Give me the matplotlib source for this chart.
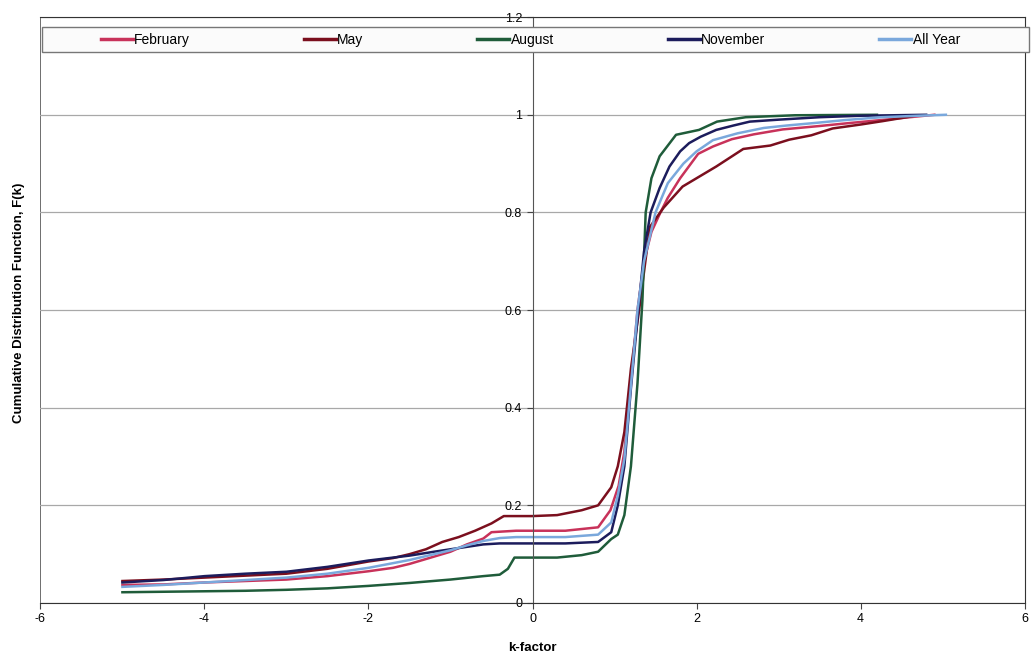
import matplotlib.pyplot as plt
from matplotlib.patches import Rectangle

plt.rcParams['font.family'] = ['Liberation Sans', 'DejaVu Sans']
plt.rcParams['axes.unicode_minus'] = False

# k-factor / F(k), one pair of lists per series
feb_k = [-5, -4.5, -4, -3.5, -3, -2.5, -2, -1.7, -1.5, -1.2, -1.0, -0.8, -0.6, -0.5, -0.2, 0,
         0.4, 0.8, 0.95, 1.05, 1.12, 1.2, 1.28, 1.36, 1.45, 1.56, 1.65, 1.8, 2.02, 2.2, 2.43,
         2.7, 3.05, 3.5, 3.86, 4.3, 4.9]
feb_f = [0.037, 0.038, 0.042, 0.045, 0.048, 0.055, 0.065, 0.072, 0.08, 0.095, 0.105, 0.12,
         0.132, 0.145, 0.148, 0.148, 0.148, 0.155, 0.19, 0.24, 0.31, 0.45, 0.6, 0.7, 0.76, 0.8,
         0.83, 0.87, 0.92, 0.935, 0.95, 0.96, 0.97, 0.977, 0.983, 0.99, 1.0]

may_k = [-5, -4.5, -4, -3.5, -3, -2.5, -2, -1.7, -1.5, -1.3, -1.1, -0.9, -0.7, -0.5, -0.35, 0,
         0.3, 0.6, 0.8, 0.96, 1.04, 1.12, 1.2, 1.3, 1.43, 1.6, 1.83, 2.0, 2.24, 2.57, 2.9,
         3.13, 3.4, 3.66, 4.0, 4.27, 4.63]
may_f = [0.045, 0.048, 0.052, 0.056, 0.06, 0.07, 0.085, 0.092, 0.1, 0.11, 0.125, 0.135, 0.148,
         0.163, 0.178, 0.178, 0.18, 0.19, 0.2, 0.237, 0.28, 0.35, 0.48, 0.6, 0.77, 0.81, 0.853,
         0.87, 0.894, 0.93, 0.937, 0.949, 0.958, 0.972, 0.98, 0.987, 0.997]

aug_k = [-5, -4.5, -4, -3.5, -3, -2.5, -2, -1.5, -1.0, -0.6, -0.4, -0.3, -0.22, 0, 0.3, 0.6,
         0.8, 0.96, 1.04, 1.12, 1.2, 1.28, 1.34, 1.38, 1.45, 1.55, 1.75, 2.03, 2.25, 2.6, 3.2,
         4.2]
aug_f = [0.022, 0.023, 0.024, 0.025, 0.027, 0.03, 0.035, 0.041, 0.048, 0.055, 0.058, 0.07,
         0.093, 0.093, 0.093, 0.098, 0.105, 0.131, 0.14, 0.18, 0.28, 0.45, 0.62, 0.8, 0.87,
         0.915, 0.959, 0.969, 0.986, 0.995, 0.999, 1.0]

nov_k = [-5, -4.5, -4, -3.5, -3, -2.5, -2, -1.5, -1.2, -1.0, -0.8, -0.6, -0.4, -0.2, 0, 0.4,
         0.8, 0.96, 1.04, 1.12, 1.2, 1.29, 1.36, 1.44, 1.55, 1.67, 1.8, 1.91, 2.05, 2.24, 2.45,
         2.65, 3.0, 3.5, 4.0, 4.8]
nov_f = [0.042, 0.047, 0.055, 0.06, 0.064, 0.074, 0.087, 0.097, 0.105, 0.11, 0.115, 0.12,
         0.122, 0.122, 0.122, 0.122, 0.125, 0.145, 0.2, 0.28, 0.44, 0.6, 0.72, 0.8, 0.85,
         0.894, 0.925, 0.942, 0.955, 0.969, 0.978, 0.986, 0.99, 0.995, 0.998, 1.0]

all_k = [-5, -4.5, -4, -3.5, -3, -2.5, -2, -1.5, -1.2, -1.0, -0.8, -0.6, -0.4, -0.2, 0, 0.4,
         0.8, 0.96, 1.04, 1.12, 1.2, 1.28, 1.36, 1.5, 1.65, 1.84, 2.0, 2.2, 2.5, 2.82, 3.1,
         3.43, 3.8, 4.25, 4.7, 5.04]
all_f = [0.033, 0.037, 0.042, 0.047, 0.052, 0.06, 0.072, 0.088, 0.1, 0.108, 0.118, 0.127,
         0.133, 0.135, 0.135, 0.135, 0.14, 0.165, 0.22, 0.295, 0.445, 0.6, 0.7, 0.8, 0.86, 0.9,
         0.925, 0.948, 0.962, 0.973, 0.978, 0.983, 0.989, 0.995, 0.998, 1.0]

names = ['February', 'May', 'August', 'November', 'All Year']
colors = ['#c8325a', '#7b0f1e', '#1f5c3a', '#1c1c5c', '#7aa8dc']
series = [(feb_k, feb_f), (may_k, may_f), (aug_k, aug_f), (nov_k, nov_f), (all_k, all_f)]

fig = plt.figure(figsize=(10.36, 6.59), dpi=100)
ax = fig.add_axes([0.039, 0.085, 0.950, 0.889])

for (k, f), name, c in zip(series, names, colors):
    ax.plot(k, f, color=c, lw=1.8, label=name)

ax.set_xlim(-6, 6)
ax.set_ylim(0, 1.2)
ax.set_xticks([-6, -4, -2, 0, 2, 4, 6])
ax.set_yticks([0, 0.2, 0.4, 0.6, 0.8, 1.0, 1.2])
ax.set_yticklabels(['0', '0.2', '0.4', '0.6', '0.8', '1', '1.2'])
ax.yaxis.grid(True, color='#a8a8a8', lw=0.9)
ax.set_axisbelow(True)

# y axis runs through k = 0, the plot frame stays on the outside
ax.spines['left'].set_position(('data', 0))
ax.spines['left'].set_color('#555555')
for s in ['top', 'right', 'bottom']:
    ax.spines[s].set_color('#333333')
ax.axvline(-6, color='#555555', lw=1.2, zorder=0)
ax.tick_params(axis='both', labelsize=9, direction='out', length=4, color='#444444')

ax.set_xlabel('k-factor', fontsize=9.5, fontweight='bold', labelpad=12)
fig.text(0.018, 0.54, 'Cumulative Distribution Function, F(k)', rotation=90,
         fontsize=9.5, fontweight='bold', ha='center', va='center')

# legend strip across the top
fig.add_artist(Rectangle((0.041, 0.921), 0.952, 0.038, transform=fig.transFigure,
                         facecolor='#fbfbfb', edgecolor='#777777', lw=1.0, zorder=5))
leg = fig.legend(loc='center', bbox_to_anchor=(0.512, 0.940), ncol=5, frameon=False,
                 fontsize=10, handlelength=2.3, handletextpad=0.1, columnspacing=8.2)
leg.set_zorder(6)
for line in leg.get_lines():
    line.set_linewidth(2.5)

fig.savefig('out.png', dpi=100, facecolor='white')
